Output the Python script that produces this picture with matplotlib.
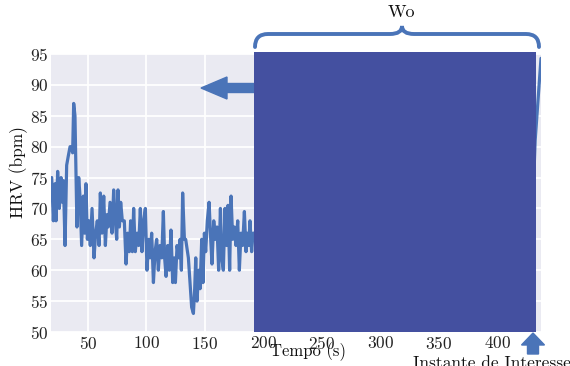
import numpy as np
import matplotlib
matplotlib.use('Agg')
import seaborn as sns
from matplotlib import pyplot as plt
from matplotlib.path import Path
import matplotlib.patches as mpatches

# HRV trace (time in s, value in bpm)
tempo = [19.0, 20.4, 21.8, 22.7, 24.1, 25.5, 27.0, 28.1, 29.0, 30.4,
         31.8, 33.2, 34.7, 36.1, 36.9, 37.8, 38.9, 39.8, 40.6, 42.1,
         43.2, 44.6, 46.1, 47.2, 48.3, 49.5, 50.9, 52.0, 53.5, 55.2,
         56.6, 58.0, 59.5, 60.6, 62.0, 63.5, 64.9, 66.3, 67.4, 68.9,
         70.6, 72.0, 73.4, 74.6, 75.7, 76.9, 78.0, 79.4, 81.1, 82.6,
         84.0, 85.4, 86.5, 88.0, 89.1, 90.5, 92.0, 93.4, 94.8, 96.2,
         97.7, 99.1, 100.5, 102.0, 103.1, 104.5, 106.0, 107.4, 108.8, 110.2,
         111.6, 113.1, 114.5, 115.6, 116.8, 118.2, 119.6, 121.0, 122.5, 123.9,
         124.8, 126.2, 127.6, 128.8, 129.9, 131.0, 132.5, 133.6, 135.9, 137.3,
         138.7, 140.2, 141.3, 142.2, 143.3, 144.7, 145.9, 147.3, 148.4, 149.6,
         150.7, 152.1, 153.6, 155.0, 156.1, 157.6, 159.0, 160.4, 161.8, 163.3,
         164.4, 165.8, 167.2, 168.7, 169.8, 171.2, 172.4, 173.8, 175.2, 176.6,
         178.1, 179.5, 180.9, 182.3, 183.8, 185.2, 186.3, 187.5, 188.6, 190.0,
         191.2, 300.0, 425.0, 430.0, 432.5, 437.5]
hrv = [75, 68, 74, 68, 76, 70, 75, 71, 74.5, 64,
       77, 78.5, 80, 80, 79, 87, 85, 75, 67, 75,
       72, 64, 72, 66, 74, 65, 68, 64, 70, 62,
       66, 68, 64, 72.5, 66, 72, 64, 69, 67, 71,
       66, 73, 68, 65, 73, 67, 71, 68, 68, 61,
       66, 63, 68, 63, 70, 63, 66, 64, 70, 63,
       68, 70, 60, 65, 62, 66, 58, 63, 65, 60,
       64, 62, 69.5, 62, 59, 64, 60, 66.5, 58, 62,
       58, 64, 62, 65, 60, 72.5, 65, 65, 62, 58,
       54, 53, 57, 62, 55, 60, 57, 65, 58, 66,
       63, 68, 71, 65, 61, 68, 65, 67, 60, 70,
       62, 60, 70, 64, 70.5, 60, 72, 65, 67, 64,
       68, 60, 66, 64, 69.5, 63, 66, 64, 68, 63,
       66, 66, 65, 68, 81, 94.3]

x_ticks = [50, 100, 150, 200, 250, 300, 350, 400]
y_ticks = [50, 55, 60, 65, 70, 75, 80, 85, 90, 95]

sns.set_style('darkgrid')
plt.rcParams['font.family'] = 'serif'
plt.rcParams['font.serif'] = ['cmr10']
plt.rcParams['mathtext.fontset'] = 'cm'
plt.rcParams['axes.formatter.use_mathtext'] = True

azul = '#4a74b8'
azul_caixa = '#4450a0'

fig = plt.figure(figsize=(5.7, 3.66), dpi=100)
ax = fig.add_axes([51 / 570, 1 - 332 / 366, 490 / 570, 278 / 366])
ax.plot(tempo, hrv, '-', color=azul, lw=2.3)
ax.set_xlim(tempo[0] - 0.6, tempo[-1])
ax.set_ylim(50, 95)
ax.set_xticks(x_ticks)
ax.set_yticks(y_ticks)
ax.grid(True, color='white', lw=1.3)
ax.tick_params(axis='both', length=0, pad=2, labelsize=12.5, labelcolor='#222222')
for s in ax.spines.values():
    s.set_visible(False)

# overlay (figure drawn in inches -> pixels / 100)
T = fig.dpi_scale_trans
def P(px, py):
    return (px / 100.0, (366 - py) / 100.0)

x0, y0 = P(254, 332)
caixa = mpatches.Rectangle((x0, y0), (535.5 - 254) / 100.0, (332 - 52) / 100.0,
                           transform=T, facecolor=azul_caixa, edgecolor='none', zorder=5)
fig.patches.append(caixa)

seta_esq = mpatches.FancyArrow(P(254, 88)[0], P(254, 88)[1], -0.53, 0, width=0.09,
                               head_width=0.22, head_length=0.26, length_includes_head=True,
                               transform=T, color=azul, zorder=4)
fig.patches.append(seta_esq)

seta_cima = mpatches.FancyArrow(P(533, 354)[0], P(533, 354)[1], 0, 0.21, width=0.11,
                                head_width=0.23, head_length=0.12, length_includes_head=True,
                                transform=T, color=azul, zorder=4)
fig.patches.append(seta_cima)

verts = [P(255, 47), P(255, 34), P(268, 34), P(390, 34), P(402, 34), P(402, 26),
         P(402, 34), P(414, 34), P(526, 34), P(539, 34), P(539, 47)]
codes = [Path.MOVETO, Path.CURVE3, Path.CURVE3, Path.LINETO, Path.CURVE3, Path.CURVE3,
         Path.CURVE3, Path.CURVE3, Path.LINETO, Path.CURVE3, Path.CURVE3]
chave = mpatches.PathPatch(Path(verts, codes), transform=T, fill=False,
                           edgecolor=azul, lw=2.8, capstyle='round')
fig.patches.append(chave)

fig.text(401 / 570, 1 - 12 / 366, 'Wo', ha='center', va='center', fontsize=13, color='#111111')
fig.text(308 / 570, 1 - 352 / 366, 'Tempo (s)', ha='center', va='center', fontsize=12, color='#111111')
fig.text(413 / 570, 1 - 356 / 366, 'Instante de Interesse', ha='left', va='top', fontsize=12.5, color='#111111')
fig.text(19 / 570, 1 - 172 / 366, 'HRV (bpm)', ha='center', va='center', rotation=90,
         fontsize=12.5, color='#111111')

plt.savefig('out.png', dpi=100)
plt.close()
